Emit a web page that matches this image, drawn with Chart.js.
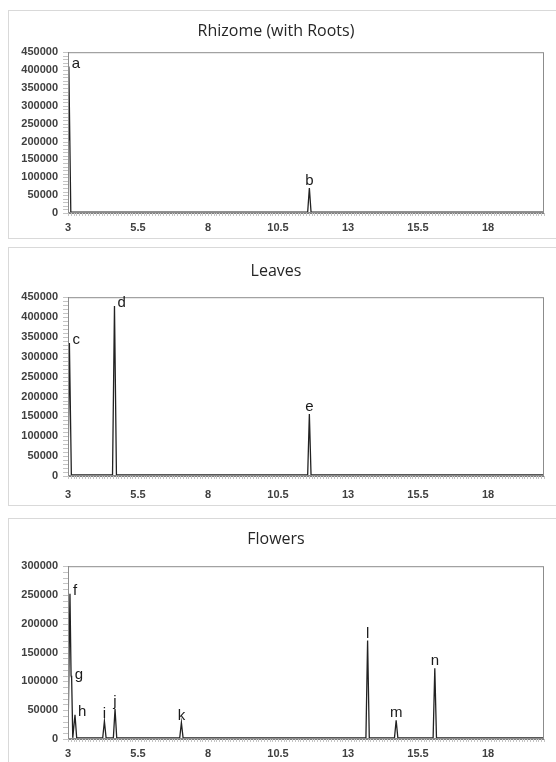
<!DOCTYPE html>
<html>
<head>
<meta charset="utf-8">
<title>Chromatograms</title>
<script src="https://cdn.jsdelivr.net/npm/chart.js@4.4.1/dist/chart.umd.min.js"></script>
<style>
  body { margin: 0; background: #fff; width: 556px; height: 762px; overflow: hidden; position: relative; }
  .box { position: absolute; left: 8px; width: 600px; border: 1px solid #d9d9d9; box-sizing: border-box; }
  .wrap { position: absolute; left: 8px; width: 548px; }
</style>
</head>
<body>
<div class="box" style="top:10px;height:229px"></div>
<div class="box" style="top:247px;height:259px"></div>
<div class="box" style="top:518px;height:300px"></div>
<div class="wrap" style="top:10px;height:228px"><canvas id="rhizome"></canvas></div>
<div class="wrap" style="top:247px;height:258px"><canvas id="leaves"></canvas></div>
<div class="wrap" style="top:518px;height:244px"><canvas id="flowers"></canvas></div>
<script>
"use strict";
// retention time (min) and abundance
const rhizomeTime = [3.0, 3.03, 3.1, 11.56, 11.62, 11.68, 20];
const rhizomeSignal = [205000, 410000, 2500, 2500, 70000, 2500, 2500];
const rhizomeLetters = ["a", "b"];
const rhizomeLetterTime = [3.03, 11.62];

const leavesTime = [3.0, 3.05, 3.12, 4.59, 4.66, 4.73, 11.56, 11.62, 11.68, 20];
const leavesSignal = [2500, 335000, 2500, 2500, 428000, 2500, 2500, 156000, 2500, 2500];
const leavesLetters = ["c", "d", "e"];
const leavesLetterTime = [3.05, 4.66, 11.62];

const flowersTime = [3.0, 3.07, 3.11, 3.13, 3.17, 3.25, 3.31, 4.24, 4.3, 4.36, 4.62, 4.68, 4.74,
  6.99, 7.05, 7.11, 13.64, 13.7, 13.76, 14.66, 14.72, 14.78, 16.04, 16.1, 16.16, 20];
const flowersSignal = [2000, 252000, 110000, 106000, 2000, 42000, 2000, 2000, 31000, 2000, 2000, 52000, 2000,
  2000, 28500, 2000, 2000, 171000, 2000, 2000, 32500, 2000, 2000, 123000, 2000, 2000];
const flowersLetters = ["f", "g", "h", "i", "j", "k", "l", "m", "n"];
const flowersLetterTime = [3.07, 3.13, 3.25, 4.3, 4.68, 7.05, 13.7, 14.72, 16.1];

const xTicks = [3, 5.5, 8, 10.5, 13, 15.5, 18];

Chart.defaults.font.family = "'Liberation Sans', Arial, sans-serif";
Chart.defaults.animation = false;

//frame, minor ticks and the peak letters
const decor = {
  id: "decor",
  afterDraw(chart, args, opts) {
    const { ctx, chartArea: a, scales } = chart;
    const x = scales.x, y = scales.y;
    ctx.save();
    ctx.strokeStyle = "#c4c4c4";
    ctx.lineWidth = 1;
    ctx.beginPath();
    for (let i = 0; i * 10000 <= y.max; i++) {
      const py = Math.round(y.getPixelForValue(i * 10000)) + 0.5;
      ctx.moveTo(a.left - 5, py);
      ctx.lineTo(a.left, py);
    }
    for (let i = 0; x.min + i * 0.1 <= x.max + 1e-9; i++) {
      const px = Math.round(x.getPixelForValue(x.min + i * 0.1)) + 0.5;
      ctx.moveTo(px, a.bottom);
      ctx.lineTo(px, a.bottom + 3);
    }
    ctx.stroke();
    ctx.strokeStyle = "#8c8c8c";
    ctx.strokeRect(a.left + 0.5, a.top + 0.5, a.width - 1, a.height - 1);

    const pts = chart.data.datasets[0].data;
    ctx.fillStyle = "#1a1a1a";
    ctx.font = "15px 'Liberation Sans', Arial, sans-serif";
    opts.letters.forEach(function (letter, i) {
      const p = pts.find(d => d.x === opts.times[i]);
      const px = x.getPixelForValue(p.x);
      const py = y.getPixelForValue(p.y);
      if (opts.place[i] === "right") {
        ctx.textAlign = "left";
        ctx.textBaseline = "middle";
        ctx.fillText(letter, px + 3, py - 3);
      } else {
        ctx.textAlign = "center";
        ctx.textBaseline = "alphabetic";
        ctx.fillText(letter, px, py - 3);
      }
    });
    ctx.restore();
  }
};

function makeChart(id, title, time, signal, letters, letterTime, place, yMax, look) {
  const data = time.map((t, i) => ({ x: t, y: signal[i] }));
  return new Chart(document.getElementById(id), {
    type: "line",
    data: {
      datasets: [{
        data: data,
        borderColor: "#222",
        borderWidth: 1.3,
        pointRadius: 0,
        tension: 0,
        fill: false
      }]
    },
    options: {
      responsive: true,
      maintainAspectRatio: false,
      layout: { padding: { left: 0, right: 12, top: 0, bottom: 0 } },
      plugins: {
        legend: { display: false },
        tooltip: { enabled: false },
        title: {
          display: true,
          text: title,
          color: "#262626",
          font: { size: 16, weight: "normal", family: "'Open Sans', sans-serif", lineHeight: 1.2 },
          padding: { top: look.titleTop, bottom: look.titleBottom }
        },
        decor: { letters: letters, times: letterTime, place: place }
      },
      scales: {
        x: {
          type: "linear",
          min: 3,
          max: 20,
          afterBuildTicks: s => { s.ticks = xTicks.map(v => ({ value: v })); },
          afterFit: s => { s.height = look.xHeight; },
          grid: { display: false, drawTicks: false },
          border: { display: true, color: "#7f7f7f" },
          ticks: {
            padding: look.xPad,
            maxRotation: 0,
            autoSkip: false,
            color: "#404040",
            font: { size: 11, weight: "bold" },
            callback: v => String(v)
          }
        },
        y: {
          min: 0,
          max: yMax,
          afterFit: s => { s.width = 60; },
          grid: { display: false, drawTicks: false },
          border: { display: true, color: "#7f7f7f" },
          ticks: {
            stepSize: 50000,
            padding: 10,
            color: "#404040",
            font: { size: 11, weight: "bold" },
            callback: v => String(v)
          }
        }
      }
    },
    plugins: [decor]
  });
}

makeChart("rhizome", "Rhizome (with Roots)", rhizomeTime, rhizomeSignal, rhizomeLetters, rhizomeLetterTime,
  ["right", "top"], 450000, { titleTop: 12, titleBottom: 11, xHeight: 25, xPad: 8 });
makeChart("leaves", "Leaves", leavesTime, leavesSignal, leavesLetters, leavesLetterTime,
  ["right", "right", "top"], 450000, { titleTop: 15, titleBottom: 16, xHeight: 29, xPad: 12 });
makeChart("flowers", "Flowers", flowersTime, flowersSignal, flowersLetters, flowersLetterTime,
  ["right", "right", "right", "top", "top", "top", "top", "top", "top"], 300000,
  { titleTop: 12, titleBottom: 17, xHeight: 23, xPad: 8 });
</script>
</body>
</html>
